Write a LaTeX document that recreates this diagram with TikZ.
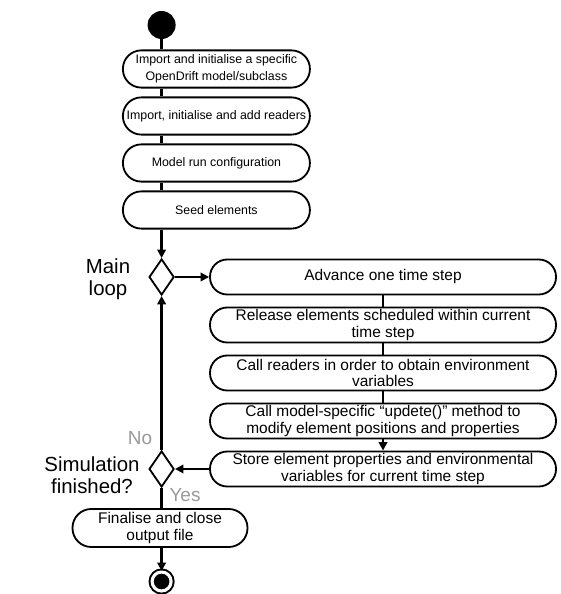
\documentclass[tikz,border=0pt]{standalone}
\usepackage{fontspec}
\setmainfont{Liberation Sans}
\usetikzlibrary{shapes.geometric, arrows.meta}

\begin{document}
\begin{tikzpicture}[font=\fontsize{11}{12}\selectfont]
    \useasboundingbox (0,0) rectangle (14,14.85);

    % start and end points
    \begin{scope}[every node/.style={circle, fill=black, inner sep=0pt}]
        \node[minimum size=0.7cm] (start) at (4.04,14.225) {};
        \node[minimum size=0.475cm, double=white, double distance=2.2pt, draw=black, line width=1.4pt] (stop) at (4.04,0.3125) {};
    \end{scope}

    % setup steps
    \begin{scope}[every node/.style={rectangle, rounded corners=0.46cm, draw, line width=1.3pt, minimum width=4.675cm, minimum height=0.93cm, inner sep=1pt, align=center, font=\fontsize{8.8}{12}\selectfont}]
        \node (import) at (5.41,13.125) {Import and initialise a specific\\OpenDrift model/subclass};
        \node (readers) at (5.41,11.95) {Import, initialise and add readers};
        \node (config) at (5.41,10.775) {Model run configuration};
        \node (seed) at (5.41,9.6) {Seed elements};
    \end{scope}
    \node (final) at (4.0,1.65) [rectangle, rounded corners=0.47cm, draw, line width=1.3pt, minimum width=4.375cm, minimum height=0.95cm, inner sep=1pt, align=center] {Finalise and close\\output file};

    % time step loop
    \begin{scope}[every node/.style={rectangle, rounded corners=0.43cm, draw, line width=1.3pt, minimum width=8.65cm, minimum height=0.875cm, inner sep=0.5pt, align=center}]
        \node (advance) at (9.575,7.925) {Advance one time step};
        \node (release) at (9.575,6.725) {Release elements scheduled within current\\time step};
        \node (callread) at (9.575,5.525) {Call readers in order to obtain environment\\variables};
        \node (update) at (9.575,4.325) {Call model-specific ``updete()'' method to\\modify element positions and properties};
        \node (store) at (9.575,3.125) {Store element properties and environmental\\variables for current time step};
    \end{scope}

    % decisions
    \begin{scope}[every node/.style={diamond, draw, line width=1.3pt, minimum width=0.625cm, minimum height=0.9cm, inner sep=0pt}]
        \node (mainloop) at (4.04,7.925) {};
        \node (finished) at (4.04,3.125) {};
    \end{scope}

    \begin{scope}[every node/.style={align=center, font=\fontsize{14.5}{16}\selectfont}]
        \node at (2.7,7.875) {Main\\loop};
        \node at (2.3,2.975) {Simulation\\finished?};
        \node[text=black!40, font=\fontsize{13.5}{15}\selectfont] at (3.5,3.9) {No};
        \node[text=black!40, font=\fontsize{13.5}{15}\selectfont] at (4.625,2.475) {Yes};
    \end{scope}

    \begin{scope}[line width=2pt, >={Triangle[length=6pt, width=6pt]}]
        \draw (start) -- (start |- import.north);
        \draw (start |- import.south) -- (start |- readers.north);
        \draw (start |- readers.south) -- (start |- config.north);
        \draw (start |- config.south) -- (start |- seed.north);
        \draw[->] (start |- seed.south) -- (mainloop.north);
        \draw[->] (mainloop.east) -- (advance.west);
        \path [-] (advance) edge (release);
        \path [-] (release) edge (callread);
        \path [-] (callread) edge (update);
        \path [->] (update) edge (store);
        \draw[->] (store.west) -- (finished.east);
        \draw[->] (finished.north) -- (mainloop.south);
        \draw (finished.south) -- (finished.south |- final.north);
        \draw[->] (finished.south |- final.south) -- (stop);
    \end{scope}
\end{tikzpicture}
\end{document}
